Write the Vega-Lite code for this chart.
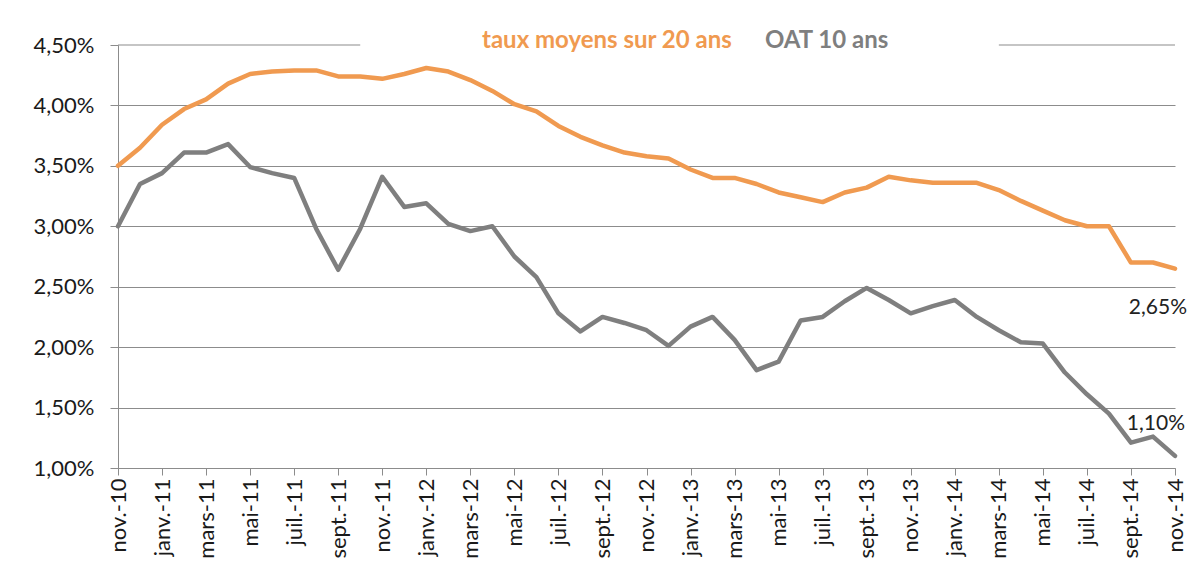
{
  "$schema": "https://vega.github.io/schema/vega-lite/v6.json",
  "width": 1057,
  "height": 423,
  "autosize": {"type": "none"},
  "padding": {"left": 118, "top": 45, "right": 18, "bottom": 114},
  "background": "white",
  "datasets": {
    "taux": [
      {"mois": "nov.-10", "serie": "taux moyens sur 20 ans", "taux": 3.50},
      {"mois": "déc.-10", "serie": "taux moyens sur 20 ans", "taux": 3.65},
      {"mois": "janv.-11", "serie": "taux moyens sur 20 ans", "taux": 3.84},
      {"mois": "févr.-11", "serie": "taux moyens sur 20 ans", "taux": 3.97},
      {"mois": "mars-11", "serie": "taux moyens sur 20 ans", "taux": 4.05},
      {"mois": "avr.-11", "serie": "taux moyens sur 20 ans", "taux": 4.18},
      {"mois": "mai-11", "serie": "taux moyens sur 20 ans", "taux": 4.26},
      {"mois": "juin-11", "serie": "taux moyens sur 20 ans", "taux": 4.28},
      {"mois": "juil.-11", "serie": "taux moyens sur 20 ans", "taux": 4.29},
      {"mois": "août-11", "serie": "taux moyens sur 20 ans", "taux": 4.29},
      {"mois": "sept.-11", "serie": "taux moyens sur 20 ans", "taux": 4.24},
      {"mois": "oct.-11", "serie": "taux moyens sur 20 ans", "taux": 4.24},
      {"mois": "nov.-11", "serie": "taux moyens sur 20 ans", "taux": 4.22},
      {"mois": "déc.-11", "serie": "taux moyens sur 20 ans", "taux": 4.26},
      {"mois": "janv.-12", "serie": "taux moyens sur 20 ans", "taux": 4.31},
      {"mois": "févr.-12", "serie": "taux moyens sur 20 ans", "taux": 4.28},
      {"mois": "mars-12", "serie": "taux moyens sur 20 ans", "taux": 4.21},
      {"mois": "avr.-12", "serie": "taux moyens sur 20 ans", "taux": 4.12},
      {"mois": "mai-12", "serie": "taux moyens sur 20 ans", "taux": 4.01},
      {"mois": "juin-12", "serie": "taux moyens sur 20 ans", "taux": 3.95},
      {"mois": "juil.-12", "serie": "taux moyens sur 20 ans", "taux": 3.83},
      {"mois": "août-12", "serie": "taux moyens sur 20 ans", "taux": 3.74},
      {"mois": "sept.-12", "serie": "taux moyens sur 20 ans", "taux": 3.67},
      {"mois": "oct.-12", "serie": "taux moyens sur 20 ans", "taux": 3.61},
      {"mois": "nov.-12", "serie": "taux moyens sur 20 ans", "taux": 3.58},
      {"mois": "déc.-12", "serie": "taux moyens sur 20 ans", "taux": 3.56},
      {"mois": "janv.-13", "serie": "taux moyens sur 20 ans", "taux": 3.47},
      {"mois": "févr.-13", "serie": "taux moyens sur 20 ans", "taux": 3.40},
      {"mois": "mars-13", "serie": "taux moyens sur 20 ans", "taux": 3.40},
      {"mois": "avr.-13", "serie": "taux moyens sur 20 ans", "taux": 3.35},
      {"mois": "mai-13", "serie": "taux moyens sur 20 ans", "taux": 3.28},
      {"mois": "juin-13", "serie": "taux moyens sur 20 ans", "taux": 3.24},
      {"mois": "juil.-13", "serie": "taux moyens sur 20 ans", "taux": 3.20},
      {"mois": "août-13", "serie": "taux moyens sur 20 ans", "taux": 3.28},
      {"mois": "sept.-13", "serie": "taux moyens sur 20 ans", "taux": 3.32},
      {"mois": "oct.-13", "serie": "taux moyens sur 20 ans", "taux": 3.41},
      {"mois": "nov.-13", "serie": "taux moyens sur 20 ans", "taux": 3.38},
      {"mois": "déc.-13", "serie": "taux moyens sur 20 ans", "taux": 3.36},
      {"mois": "janv.-14", "serie": "taux moyens sur 20 ans", "taux": 3.36},
      {"mois": "févr.-14", "serie": "taux moyens sur 20 ans", "taux": 3.36},
      {"mois": "mars-14", "serie": "taux moyens sur 20 ans", "taux": 3.30},
      {"mois": "avr.-14", "serie": "taux moyens sur 20 ans", "taux": 3.21},
      {"mois": "mai-14", "serie": "taux moyens sur 20 ans", "taux": 3.13},
      {"mois": "juin-14", "serie": "taux moyens sur 20 ans", "taux": 3.05},
      {"mois": "juil.-14", "serie": "taux moyens sur 20 ans", "taux": 3.00},
      {"mois": "août-14", "serie": "taux moyens sur 20 ans", "taux": 3.00},
      {"mois": "sept.-14", "serie": "taux moyens sur 20 ans", "taux": 2.70},
      {"mois": "oct.-14", "serie": "taux moyens sur 20 ans", "taux": 2.70},
      {"mois": "nov.-14", "serie": "taux moyens sur 20 ans", "taux": 2.65},
      {"mois": "nov.-10", "serie": "OAT 10 ans", "taux": 3.00},
      {"mois": "déc.-10", "serie": "OAT 10 ans", "taux": 3.35},
      {"mois": "janv.-11", "serie": "OAT 10 ans", "taux": 3.44},
      {"mois": "févr.-11", "serie": "OAT 10 ans", "taux": 3.61},
      {"mois": "mars-11", "serie": "OAT 10 ans", "taux": 3.61},
      {"mois": "avr.-11", "serie": "OAT 10 ans", "taux": 3.68},
      {"mois": "mai-11", "serie": "OAT 10 ans", "taux": 3.49},
      {"mois": "juin-11", "serie": "OAT 10 ans", "taux": 3.44},
      {"mois": "juil.-11", "serie": "OAT 10 ans", "taux": 3.40},
      {"mois": "août-11", "serie": "OAT 10 ans", "taux": 2.98},
      {"mois": "sept.-11", "serie": "OAT 10 ans", "taux": 2.64},
      {"mois": "oct.-11", "serie": "OAT 10 ans", "taux": 2.98},
      {"mois": "nov.-11", "serie": "OAT 10 ans", "taux": 3.41},
      {"mois": "déc.-11", "serie": "OAT 10 ans", "taux": 3.16},
      {"mois": "janv.-12", "serie": "OAT 10 ans", "taux": 3.19},
      {"mois": "févr.-12", "serie": "OAT 10 ans", "taux": 3.02},
      {"mois": "mars-12", "serie": "OAT 10 ans", "taux": 2.96},
      {"mois": "avr.-12", "serie": "OAT 10 ans", "taux": 3.00},
      {"mois": "mai-12", "serie": "OAT 10 ans", "taux": 2.75},
      {"mois": "juin-12", "serie": "OAT 10 ans", "taux": 2.58},
      {"mois": "juil.-12", "serie": "OAT 10 ans", "taux": 2.28},
      {"mois": "août-12", "serie": "OAT 10 ans", "taux": 2.13},
      {"mois": "sept.-12", "serie": "OAT 10 ans", "taux": 2.25},
      {"mois": "oct.-12", "serie": "OAT 10 ans", "taux": 2.20},
      {"mois": "nov.-12", "serie": "OAT 10 ans", "taux": 2.14},
      {"mois": "déc.-12", "serie": "OAT 10 ans", "taux": 2.01},
      {"mois": "janv.-13", "serie": "OAT 10 ans", "taux": 2.17},
      {"mois": "févr.-13", "serie": "OAT 10 ans", "taux": 2.25},
      {"mois": "mars-13", "serie": "OAT 10 ans", "taux": 2.06},
      {"mois": "avr.-13", "serie": "OAT 10 ans", "taux": 1.81},
      {"mois": "mai-13", "serie": "OAT 10 ans", "taux": 1.88},
      {"mois": "juin-13", "serie": "OAT 10 ans", "taux": 2.22},
      {"mois": "juil.-13", "serie": "OAT 10 ans", "taux": 2.25},
      {"mois": "août-13", "serie": "OAT 10 ans", "taux": 2.38},
      {"mois": "sept.-13", "serie": "OAT 10 ans", "taux": 2.49},
      {"mois": "oct.-13", "serie": "OAT 10 ans", "taux": 2.39},
      {"mois": "nov.-13", "serie": "OAT 10 ans", "taux": 2.28},
      {"mois": "déc.-13", "serie": "OAT 10 ans", "taux": 2.34},
      {"mois": "janv.-14", "serie": "OAT 10 ans", "taux": 2.39},
      {"mois": "févr.-14", "serie": "OAT 10 ans", "taux": 2.25},
      {"mois": "mars-14", "serie": "OAT 10 ans", "taux": 2.14},
      {"mois": "avr.-14", "serie": "OAT 10 ans", "taux": 2.04},
      {"mois": "mai-14", "serie": "OAT 10 ans", "taux": 2.03},
      {"mois": "juin-14", "serie": "OAT 10 ans", "taux": 1.79},
      {"mois": "juil.-14", "serie": "OAT 10 ans", "taux": 1.61},
      {"mois": "août-14", "serie": "OAT 10 ans", "taux": 1.45},
      {"mois": "sept.-14", "serie": "OAT 10 ans", "taux": 1.21},
      {"mois": "oct.-14", "serie": "OAT 10 ans", "taux": 1.26},
      {"mois": "nov.-14", "serie": "OAT 10 ans", "taux": 1.10}
    ],
    "bordure": [
      {"debut": "nov.-10", "fin": "oct.-11", "niveau": 4.5},
      {"debut": "mars-14", "fin": "nov.-14", "niveau": 4.5}
    ]
  },
  "layer": [
    {
      "data": {"name": "bordure"},
      "mark": {"type": "rule", "color": "#8C8C8C", "strokeWidth": 1.2},
      "encoding": {
        "x": {"field": "debut", "type": "ordinal"},
        "x2": {"field": "fin"},
        "y": {"field": "niveau", "type": "quantitative"}
      }
    },
    {
      "data": {"name": "taux"},
      "mark": {"type": "line", "strokeWidth": 4.5, "strokeCap": "round", "strokeJoin": "round"},
      "encoding": {
        "x": {
          "field": "mois",
          "type": "ordinal",
          "scale": {
            "type": "point",
            "padding": 0,
            "domain": ["nov.-10","déc.-10","janv.-11","févr.-11","mars-11","avr.-11","mai-11","juin-11","juil.-11","août-11","sept.-11","oct.-11","nov.-11","déc.-11","janv.-12","févr.-12","mars-12","avr.-12","mai-12","juin-12","juil.-12","août-12","sept.-12","oct.-12","nov.-12","déc.-12","janv.-13","févr.-13","mars-13","avr.-13","mai-13","juin-13","juil.-13","août-13","sept.-13","oct.-13","nov.-13","déc.-13","janv.-14","févr.-14","mars-14","avr.-14","mai-14","juin-14","juil.-14","août-14","sept.-14","oct.-14","nov.-14"]
          },
          "axis": {
            "title": null,
            "values": ["nov.-10","janv.-11","mars-11","mai-11","juil.-11","sept.-11","nov.-11","janv.-12","mars-12","mai-12","juil.-12","sept.-12","nov.-12","janv.-13","mars-13","mai-13","juil.-13","sept.-13","nov.-13","janv.-14","mars-14","mai-14","juil.-14","sept.-14","nov.-14"],
            "labelAngle": -90,
            "labelFont": "Lato",
            "labelFontSize": 22,
            "labelColor": "#1a1a1a",
            "labelPadding": 3,
            "tickSize": 7,
            "tickColor": "#8C8C8C",
            "domainColor": "#8C8C8C",
            "grid": false
          }
        },
        "y": {
          "field": "taux",
          "type": "quantitative",
          "scale": {"domain": [1, 4.5], "nice": false, "zero": false},
          "axis": {
            "title": null,
            "values": [1, 1.5, 2, 2.5, 3, 3.5, 4, 4.5],
            "labelExpr": "replace(format(datum.value, '.2f'), '.', ',') + '%'",
            "labelFont": "Lato",
            "labelFontSize": 22,
            "labelColor": "#1a1a1a",
            "labelPadding": 16,
            "tickSize": 8,
            "tickColor": "#8C8C8C",
            "domainColor": "#8C8C8C",
            "grid": true,
            "gridColor": "#8C8C8C",
            "gridWidth": 1.2,
            "gridOpacity": {"condition": {"test": "datum.value == 4.5", "value": 0}, "value": 1}
          }
        },
        "color": {
          "field": "serie",
          "type": "nominal",
          "scale": {"domain": ["taux moyens sur 20 ans", "OAT 10 ans"], "range": ["#F09A50", "#7F7F7F"]},
          "legend": {
            "title": null,
            "orient": "none",
            "legendX": 340,
            "legendY": -16,
            "direction": "horizontal",
            "padding": 0,
            "symbolSize": 0,
            "symbolStrokeWidth": 0,
            "symbolOpacity": 0,
            "labelOffset": 0,
            "columnPadding": 8,
            "labelFont": "Lato",
            "labelFontSize": 24,
            "labelFontWeight": "bold",
            "labelLimit": 400,
            "encode": {
              "labels": {
                "update": {
                  "fill": {"signal": "datum.value === 'OAT 10 ans' ? '#7F7F7F' : '#F09A50'"}
                }
              }
            }
          }
        }
      }
    },
    {
      "data": {"name": "taux"},
      "transform": [
        {"filter": "datum.mois === 'nov.-14' && datum.serie === 'taux moyens sur 20 ans'"},
        {"calculate": "replace(format(datum.taux, '.2f'), '.', ',') + '%'", "as": "etiquette"}
      ],
      "mark": {"type": "text", "font": "Lato", "fontSize": 21, "color": "#222222", "align": "right", "baseline": "middle", "dx": 12, "dy": 39},
      "encoding": {
        "x": {"field": "mois", "type": "ordinal"},
        "y": {"field": "taux", "type": "quantitative"},
        "text": {"field": "etiquette"}
      }
    },
    {
      "data": {"name": "taux"},
      "transform": [
        {"filter": "datum.mois === 'nov.-14' && datum.serie === 'OAT 10 ans'"},
        {"calculate": "replace(format(datum.taux, '.2f'), '.', ',') + '%'", "as": "etiquette"}
      ],
      "mark": {"type": "text", "font": "Lato", "fontSize": 21, "color": "#222222", "align": "right", "baseline": "middle", "dx": 10, "dy": -32},
      "encoding": {
        "x": {"field": "mois", "type": "ordinal"},
        "y": {"field": "taux", "type": "quantitative"},
        "text": {"field": "etiquette"}
      }
    }
  ],
  "config": {
    "view": {"stroke": null}
  }
}
